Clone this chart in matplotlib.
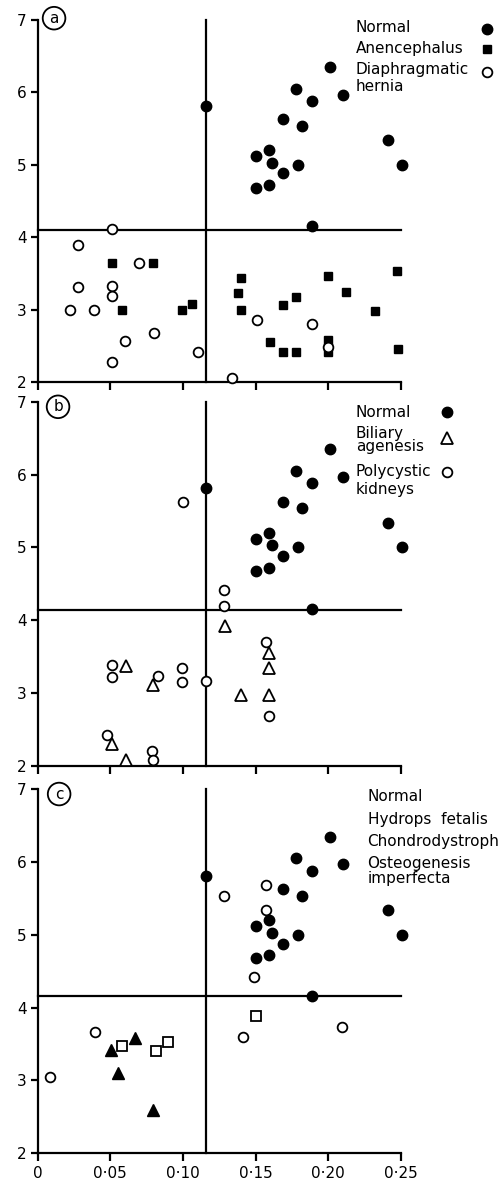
import matplotlib
matplotlib.use("Agg")
import matplotlib.pyplot as plt

# ---------------- data ----------------
normal_x = [0.116, 0.150, 0.150, 0.159, 0.161, 0.159, 0.169, 0.169, 0.178, 0.182,
            0.179, 0.189, 0.189, 0.201, 0.210, 0.241, 0.251]
normal_y = [5.81, 5.12, 4.68, 5.20, 5.03, 4.72, 5.63, 4.88, 6.05, 5.54,
            5.00, 5.88, 4.16, 6.35, 5.97, 5.34, 5.00]

anen_x = [0.051, 0.079, 0.058, 0.099, 0.106, 0.140, 0.138, 0.140, 0.160, 0.169,
          0.169, 0.178, 0.178, 0.200, 0.200, 0.200, 0.212, 0.232, 0.247, 0.248]
anen_y = [3.65, 3.65, 2.99, 3.00, 3.08, 3.44, 3.23, 3.00, 2.55, 2.41,
          3.07, 2.41, 3.17, 3.47, 2.58, 2.41, 3.24, 2.98, 3.53, 2.45]

hernia_x = [0.051, 0.028, 0.028, 0.022, 0.039, 0.051, 0.051, 0.0695, 0.060, 0.080,
            0.051, 0.110, 0.134, 0.151, 0.189, 0.200]
hernia_y = [4.12, 3.89, 3.31, 2.99, 2.99, 3.32, 3.19, 3.65, 2.57, 2.67,
            2.28, 2.42, 2.06, 2.86, 2.80, 2.48]

biliary_x = [0.0606, 0.079, 0.0514, 0.0606, 0.129, 0.140, 0.159, 0.159, 0.159]
biliary_y = [3.37, 3.11, 2.30, 2.08, 3.92, 2.98, 3.55, 3.35, 2.97]

poly_x = [0.100, 0.128, 0.128, 0.051, 0.051, 0.0826, 0.0995, 0.0995, 0.116, 0.157,
          0.159, 0.048, 0.0787, 0.079]
poly_y = [5.63, 4.42, 4.20, 3.38, 3.22, 3.24, 3.35, 3.15, 3.17, 3.70,
          2.68, 2.43, 2.20, 2.08]

hydrops_x = [0.128, 0.157, 0.157, 0.149, 0.0085, 0.0394, 0.141, 0.2096]
hydrops_y = [5.54, 5.69, 5.34, 4.42, 3.05, 3.66, 3.60, 3.73]

chondro_x = [0.0583, 0.0814, 0.0894, 0.150]
chondro_y = [3.47, 3.41, 3.53, 3.88]

osteo_x = [0.0502, 0.067, 0.0555, 0.0796]
osteo_y = [3.42, 3.59, 3.10, 2.59]

xticks = [0, 0.05, 0.10, 0.15, 0.20, 0.25]
xticklabels = ["0", "0·05", "0·10", "0·15", "0·20", "0·25"]
yticks = [2, 3, 4, 5, 6, 7]
vline_x = 0.116
hline_y = [4.10, 4.14, 4.16]

# ---------------- figure ----------------
fig = plt.figure(figsize=(4.98, 11.8), dpi=100)
W, H = 498.0, 1180.0
left_px, right_px = 37.7, 401.0
panels_px = [(20.0, 382.0), (401.7, 766.0), (789.3, 1153.3)]
axes = []
for top, bot in panels_px:
    ax = fig.add_axes([left_px / W, 1 - bot / H, (right_px - left_px) / W, (bot - top) / H])
    axes.append(ax)

FS = 11
LW = 1.6

def style(ax, show_xlabels):
    ax.set_xlim(0, 0.25)
    ax.set_ylim(2, 7)
    for s in ["top", "right"]:
        ax.spines[s].set_visible(False)
    for s in ["left", "bottom"]:
        ax.spines[s].set_linewidth(LW)
    ax.set_yticks(yticks)
    ax.set_yticklabels([str(t) for t in yticks], fontsize=FS)
    ax.set_xticks(xticks)
    if show_xlabels:
        ax.set_xticklabels(xticklabels, fontsize=FS)
    else:
        ax.set_xticklabels([])
    ax.tick_params(direction="out", length=5, width=LW, pad=3)
    ax.tick_params(axis="x", length=6)
    ax.patch.set_alpha(0)

def quad(ax, hy):
    ax.plot([vline_x, vline_x], [2, 7], color="black", lw=LW, zorder=1, clip_on=False)
    ax.plot([0, 0.25], [hy, hy], color="black", lw=LW, zorder=1, clip_on=False)

fill_kw = dict(linestyle="none", color="black", clip_on=False, zorder=3)
def open_kw(m, ms):
    return dict(linestyle="none", marker=m, markersize=ms, markerfacecolor="white",
                markeredgecolor="black", markeredgewidth=1.3, clip_on=False, zorder=3)

def panel_letter(ax, letter, x, y):
    ax.text(x, y, letter, transform=ax.transAxes, fontsize=FS, ha="center", va="center",
            bbox=dict(boxstyle="circle,pad=0.25", fc="white", ec="black", lw=1.3))

# ---- panel a ----
ax = axes[0]
style(ax, False)
quad(ax, hline_y[0])
ax.plot(normal_x, normal_y, marker="o", markersize=7.5, **fill_kw)
ax.plot(anen_x, anen_y, marker="s", markersize=6, **fill_kw)
ax.plot(hernia_x, hernia_y, **open_kw("o", 7))
panel_letter(ax, "a", 0.045, 1.005)
tx = 0.876
for txt, y in [("Normal", 0.978), ("Anencephalus", 0.920), ("Diaphragmatic", 0.862), ("hernia", 0.815)]:
    ax.text(tx, y, txt, transform=ax.transAxes, fontsize=FS, va="center", ha="left")
ax.plot([1.237], [0.975], transform=ax.transAxes, marker="o", markersize=7.5, **fill_kw)
ax.plot([1.237], [0.920], transform=ax.transAxes, marker="s", markersize=6, **fill_kw)
ax.plot([1.237], [0.856], transform=ax.transAxes, **open_kw("o", 7))

# ---- panel b ----
ax = axes[1]
style(ax, False)
quad(ax, hline_y[1])
ax.plot(normal_x, normal_y, marker="o", markersize=7.5, **fill_kw)
ax.plot(biliary_x, biliary_y, **open_kw("^", 8))
ax.plot(poly_x, poly_y, **open_kw("o", 7))
panel_letter(ax, "b", 0.056, 0.986)
for txt, y in [("Normal", 0.970), ("Biliary", 0.914), ("agenesis", 0.876),
               ("Polycystic", 0.808), ("kidneys", 0.758)]:
    ax.text(tx, y, txt, transform=ax.transAxes, fontsize=FS, va="center", ha="left")
ax.plot([1.127], [0.971], transform=ax.transAxes, marker="o", markersize=7.5, **fill_kw)
ax.plot([1.127], [0.901], transform=ax.transAxes, **open_kw("^", 8))
ax.plot([1.127], [0.808], transform=ax.transAxes, **open_kw("o", 7))

# ---- panel c ----
ax = axes[2]
style(ax, True)
quad(ax, hline_y[2])
ax.plot(normal_x, normal_y, marker="o", markersize=7.5, **fill_kw)
ax.plot(hydrops_x, hydrops_y, **open_kw("o", 7))
ax.plot(chondro_x, chondro_y, **open_kw("s", 6.5))
ax.plot(osteo_x, osteo_y, marker="^", markersize=8, **fill_kw)
panel_letter(ax, "c", 0.059, 0.987)
for txt, y in [("Normal", 0.980), ("Hydrops  fetalis", 0.916), ("Chondrodystroph", 0.856),
               ("Osteogenesis", 0.795), ("imperfecta", 0.754)]:
    ax.text(0.908, y, txt, transform=ax.transAxes, fontsize=FS, va="center", ha="left")

fig.savefig("out.png", dpi=100)
